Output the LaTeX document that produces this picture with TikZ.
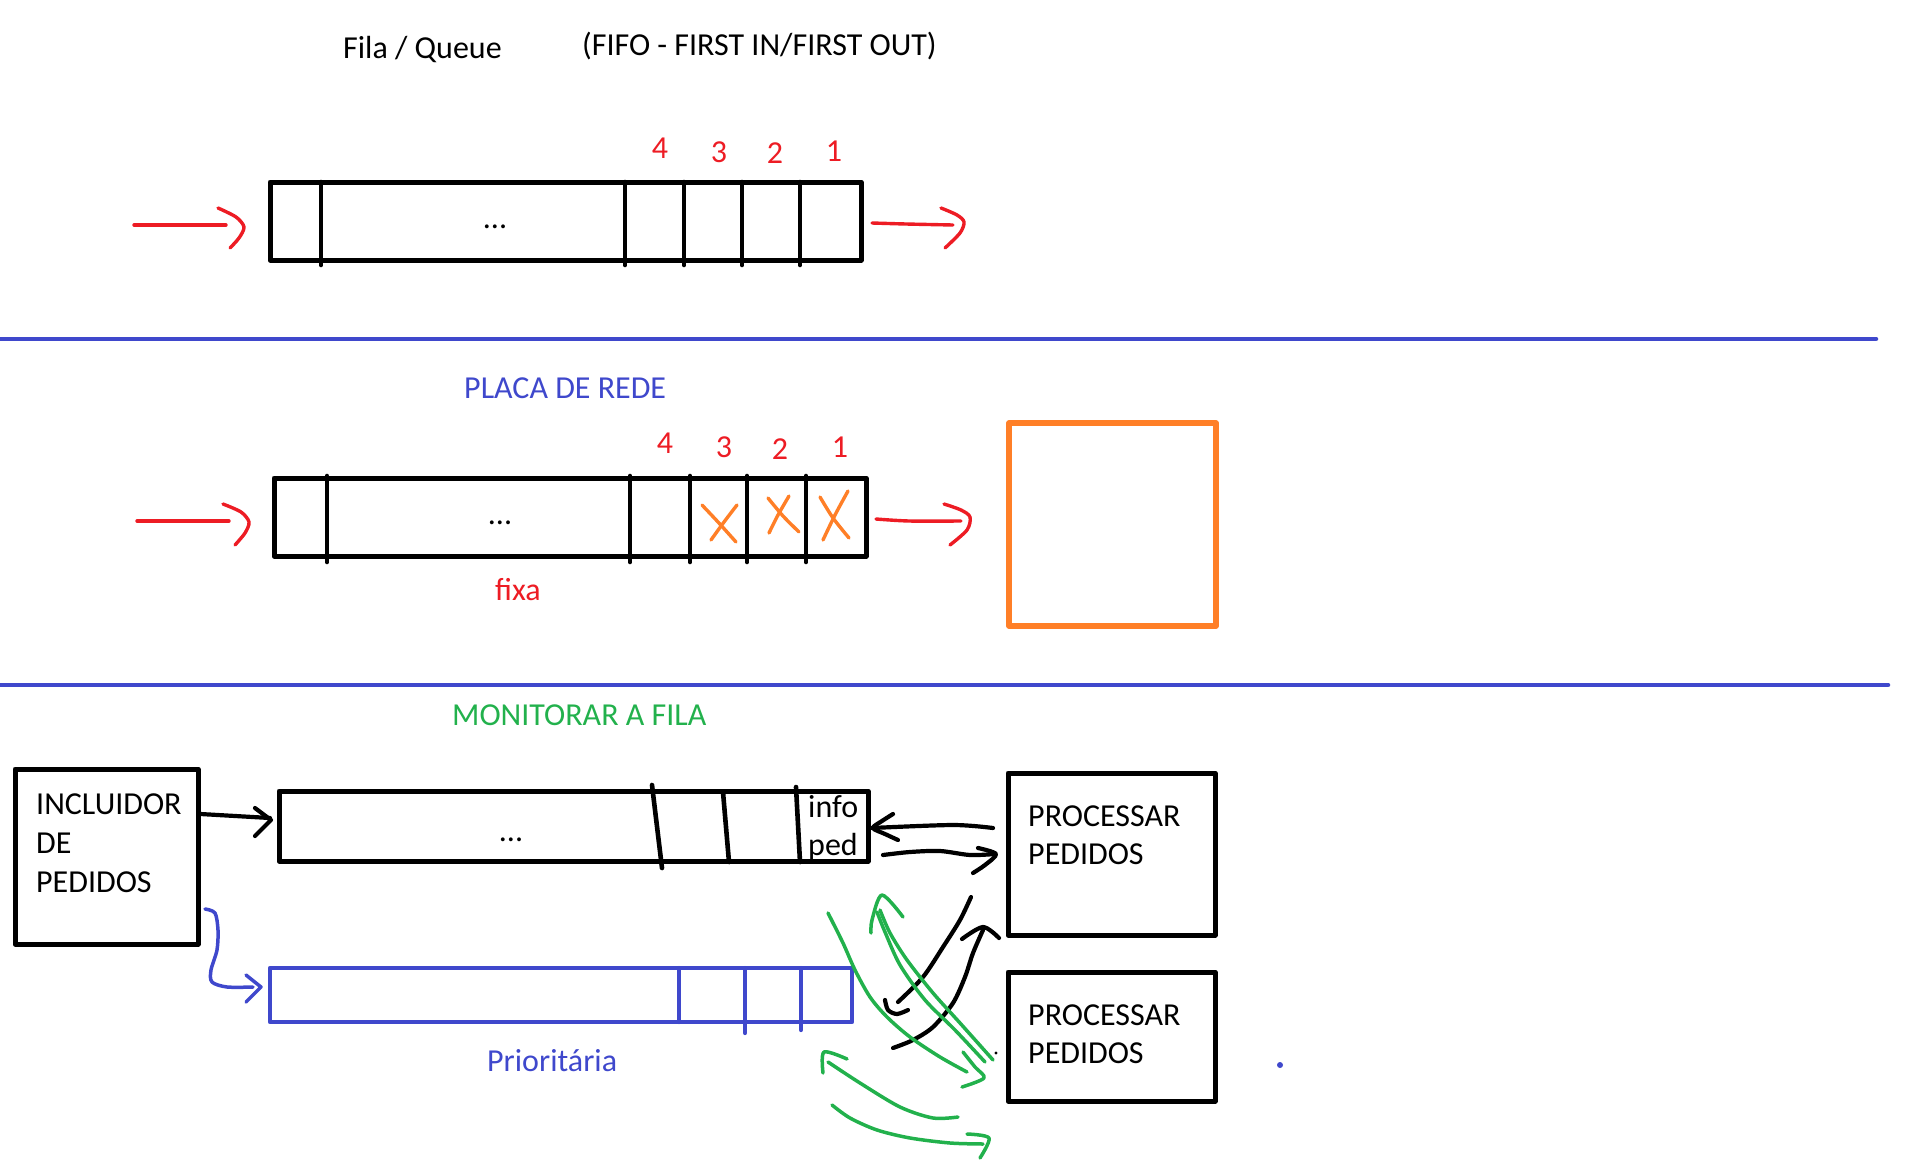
\documentclass[tikz,border=0pt]{standalone}
\usepackage{fontspec}
\setmainfont{Carlito}
\definecolor{pred}{HTML}{ED1C24}
\definecolor{pblue}{HTML}{3F48CC}
\definecolor{porange}{HTML}{FF7F27}
\definecolor{pgreen}{HTML}{22B14C}
\begin{document}
\begin{tikzpicture}[x=1pt,y=-1pt,line join=round,line cap=round,
  box/.style={draw,line width=5pt,inner sep=0pt},
  lbl/.style={font=\fontsize{32}{39}\selectfont,inner sep=0pt,anchor=base west},
  num/.style={font=\fontsize{32}{39}\selectfont,inner sep=0pt,anchor=base,text=pred},
  dots/.style={font=\fontsize{32}{39}\selectfont,inner sep=0pt,anchor=base},
  redstroke/.style={pred,line width=3.4pt},
  orstroke/.style={porange,line width=3.4pt},
  blkstroke/.style={black,line width=4.2pt},
  grnstroke/.style={pgreen,line width=3.5pt},
  bluestroke/.style={pblue,line width=3.5pt},
  divider/.style={line width=4.6pt}]
\useasboundingbox (0,0) rectangle (1914,1167);

% ---------- section 1 ----------
\node[lbl] (title) at (343,58) {Fila / Queue};
\node[lbl] (fifo) at (582,55) {(FIFO - FIRST IN/FIRST OUT)};
\node[box,minimum width=591pt,minimum height=78pt] (q1) at (565.5,221) {};
\foreach \x in {321,625,684,742,800} \draw[divider] (\x,182) -- (\x,265);
\node[num] (n14) at (660,158) {4};
\node[num] (n13) at (719,162) {3};
\node[num] (n12) at (775,163) {2};
\node[num] (n11) at (834,161) {1};
\node[dots] (d1) at (495,228) {...};
\coordinate (in1) at (134,225);
\coordinate (in1t) at (244,227);
\draw[redstroke] (in1) -- (226,225);
\draw[redstroke] plot[smooth] coordinates {(218,208) (236,217) (in1t) (239,238) (230,248)};
\coordinate (out1) at (953,225);
\draw[redstroke] plot[smooth] coordinates {(872,223) (906,224) (out1)};
\draw[redstroke] plot[smooth] coordinates {(941,208) (957,215) (964,222) (960,233) (945,248)};

\draw[pblue,line width=4.5pt] (0,339) -- (1876,339);

% ---------- section 2 ----------
\node[lbl,text=pblue] (placa) at (464,398) {PLACA DE REDE};
\node[box,minimum width=592pt,minimum height=78pt] (q2) at (570,517) {};
\foreach \x in {327,630,690,747,806} \draw[divider] (\x,476) -- (\x,562);
\node[num] (n24) at (665,453) {4};
\node[num] (n23) at (724,457) {3};
\node[num] (n22) at (780,459) {2};
\node[num] (n21) at (840,457) {1};
\node[dots] (d2) at (500,524) {...};
\node[lbl,text=pred] (fixa) at (495,600) {fixa};
\draw[orstroke] plot[smooth] coordinates {(702,505) (718,522) (736,542)};
\draw[orstroke] plot[smooth] coordinates {(737,505) (724,522) (711,540)};
\draw[orstroke] plot[smooth] coordinates {(768,498) (783,516) (799,532)};
\draw[orstroke] plot[smooth] coordinates {(789,496) (778,515) (769,533)};
\draw[orstroke] plot[smooth] coordinates {(820,497) (833,518) (849,538)};
\draw[orstroke] plot[smooth] coordinates {(848,491) (835,515) (823,540)};
\draw[redstroke] (137,521) -- (229,521);
\draw[redstroke] plot[smooth] coordinates {(223,504) (241,512) (249,522) (245,533) (235,545)};
\draw[redstroke] plot[smooth] coordinates {(876,519) (909,521) (961,521)};
\draw[redstroke] plot[smooth] coordinates {(944,504) (961,510) (970,517) (967,530) (950,545)};
\node[draw=porange,line width=5.2pt,minimum width=207pt,minimum height=203pt,inner sep=0pt] (nic) at (1112.5,524.5) {};

\draw[pblue,line width=4.5pt] (0,685) -- (1888,685);

% ---------- section 3 ----------
\node[lbl,text=pgreen] (monit) at (452,725) {MONITORAR A FILA};
\node[box,minimum width=183pt,minimum height=175pt] (inc) at (106.5,856.5) {};
\node[lbl] (inc1) at (36,814) {INCLUIDOR};
\node[lbl] (inc2) at (36,853) {DE};
\node[lbl] (inc3) at (36,892) {PEDIDOS};

\node[box,minimum width=589pt,minimum height=70pt] (q3) at (573.5,826) {};
\draw[divider] (652,785) -- (662,868);
\draw[divider] (723,792) -- (729,862);
\draw[divider] (796,787) -- (800,862);
\node[dots] (d3) at (511,841) {...};
\node[lbl] (info) at (808,817) {info};
\node[lbl] (ped) at (808,855) {ped};

\node[draw=pblue,line width=4.4pt,minimum width=582pt,minimum height=54pt,inner sep=0pt] (qp) at (561,995) {};
\draw[pblue,line width=4.2pt] (679,968) -- (679,1022);
\draw[pblue,line width=4.2pt] (745,968) -- (745,1033);
\draw[pblue,line width=4.2pt] (801,968) -- (801,1030);
\node[lbl,text=pblue] (prio) at (487,1071) {Prioritária};

\node[box,minimum width=207pt,minimum height=162pt] (p1) at (1111.5,854) {};
\node[lbl] (p1a) at (1028,826) {PROCESSAR};
\node[lbl] (p1b) at (1028,864) {PEDIDOS};
\node[box,minimum width=207pt,minimum height=129pt] (p2) at (1111.5,1036.5) {};
\node[lbl] (p2a) at (1028,1025) {PROCESSAR};
\node[lbl] (p2b) at (1028,1063) {PEDIDOS};

% INCLUIDOR -> queue
\draw[blkstroke] (inc.east |- 0,814) -- (270,818);
\draw[blkstroke] (255,808) -- (271,820) -- (255,836);
% INCLUIDOR -> priority queue
\draw[bluestroke] plot[smooth] coordinates {(205,909) (215,913) (218,930) (217,950) (211,970) (212,982) (227,987) (253,987)};
\draw[bluestroke] (246,975) -- (261,987) -- (246,1002);

% processar <-> info ped
\draw[blkstroke] plot[smooth] coordinates {(993,828) (953,825) (872,828)};
\draw[blkstroke] plot[smooth] coordinates {(893,814) (882,821) (873,828) (885,834) (898,840)};
\draw[blkstroke] plot[smooth] coordinates {(883,855) (910,852) (940,851) (970,855) (995,854)};
\draw[blkstroke] plot[smooth] coordinates {(978,848) (996,854) (985,865) (973,873)};

% black curved arrows
\draw[blkstroke] plot[smooth] coordinates {(971,897) (960,920) (943,947) (923,977) (898,1002)};
\draw[blkstroke] plot[smooth] coordinates {(885,1000) (888,1010) (897,1014) (908,1010)};
\draw[blkstroke] plot[smooth] coordinates {(893,1048) (913,1040) (933,1027) (953,1003) (965,977) (973,953) (983,930)};
\draw[blkstroke] plot[smooth] coordinates {(962,939) (983,927) (999,938)};

% green strokes
\draw[grnstroke] plot[smooth] coordinates {(828,913) (843,943) (855,970) (870,997) (887,1017) (910,1037) (940,1057) (967,1072)};
\draw[grnstroke] plot[smooth] coordinates {(963,1052) (975,1067) (984,1078) (962,1087)};
\draw[grnstroke] plot[smooth] coordinates {(993,1060) (960,1023) (933,993) (907,960) (890,933) (880,910)};
\draw[grnstroke] plot[smooth] coordinates {(985,1062) (955,1030) (925,1000) (900,965) (885,932) (877,912)};
\draw[grnstroke] plot[smooth] coordinates {(871,933) (872,920) (882,895) (903,917)};
\draw[grnstroke] plot[smooth] coordinates {(958,1117) (933,1118) (900,1107) (860,1083) (828,1062)};
\draw[grnstroke] plot[smooth] coordinates {(823,1073) (824,1052) (847,1059)};
\draw[grnstroke] plot[smooth] coordinates {(832,1105) (850,1118) (877,1130) (910,1138) (950,1143) (983,1144)};
\draw[grnstroke] plot[smooth] coordinates {(967,1134) (989,1138) (980,1158)};

\fill[pblue] (1280,1065) circle (3);
\fill[black] (996,1053) circle (1.6);
\end{tikzpicture}
\end{document}
